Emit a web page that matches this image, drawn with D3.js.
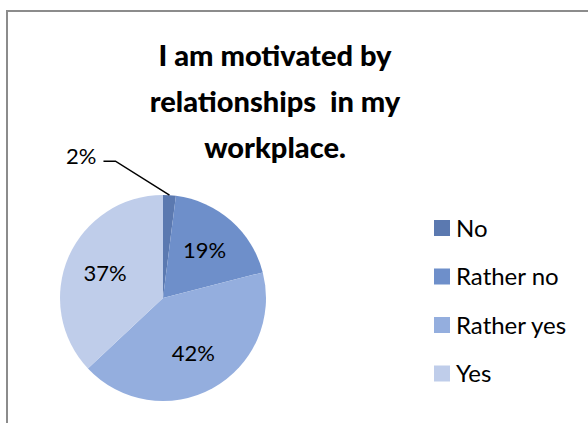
<!DOCTYPE html>
<html>
<head>
<meta charset="utf-8">
<script src="https://cdn.jsdelivr.net/npm/d3@7"></script>
<style>
  html, body { margin: 0; padding: 0; background: #ffffff; }
  svg { display: block; }
  text { font-family: Lato, "Open Sans", "Liberation Sans", sans-serif; fill: #000; }
</style>
</head>
<body>
<svg id="chart" width="588" height="423"></svg>
<script>
// Survey answers, share of respondents
const categories = ["No", "Rather no", "Rather yes", "Yes"];
const shares = [2, 19, 42, 37];
const sliceColors = ["#5b79b0", "#6e8fca", "#94aede", "#bfcdea"];
const titleLines = ["I am motivated by", "relationships  in my", "workplace."];

const W = 588, H = 423;
const svg = d3.select("#chart");

svg.append("rect").attr("width", W).attr("height", H).attr("fill", "#fff");

// chart frame (runs past the right and bottom edges)
svg.append("rect")
  .attr("x", 7).attr("y", 11)
  .attr("width", 640).attr("height", 460)
  .attr("fill", "none")
  .attr("stroke", "#8c8c8c")
  .attr("stroke-width", 2);

// title
const title = svg.append("text")
  .attr("text-anchor", "middle")
  .attr("xml:space", "preserve")
  .style("font-weight", "900")
  .style("font-size", "29px");
titleLines.forEach((line, i) => {
  title.append("tspan")
    .attr("x", 275)
    .attr("y", 66 + i * 46)
    .style("white-space", "pre")
    .text(line);
});

// pie
const cx = 163, cy = 298, R = 103;
const data = categories.map((c, i) => ({ cat: c, value: shares[i] }));
const pie = d3.pie().value(d => d.value).sort(null).startAngle(0).endAngle(2 * Math.PI);
const arcs = pie(data);
const arc = d3.arc().innerRadius(0).outerRadius(R);
const labelArc = d3.arc().innerRadius(126).outerRadius(0); // centroid radius 63
const color = d3.scaleOrdinal().domain(categories).range(sliceColors);

const g = svg.append("g").attr("transform", `translate(${cx},${cy})`);
g.selectAll("path.slice")
  .data(arcs)
  .join("path")
  .attr("class", "slice")
  .attr("d", arc)
  .attr("fill", d => color(d.data.cat));

// inside labels for the larger slices
g.selectAll("text.pct")
  .data(arcs.filter(d => d.data.value >= 5))
  .join("text")
  .attr("class", "pct")
  .attr("transform", d => `translate(${labelArc.centroid(d)})`)
  .attr("text-anchor", "middle")
  .attr("dy", "0.35em")
  .style("font-size", "22px")
  .text(d => d.data.value + "%");

// small slice: label outside with a leader line
arcs.filter(d => d.data.value < 5).forEach(d => {
  const mid = (d.startAngle + d.endAngle) / 2;
  const p0 = [Math.sin(mid) * R, -Math.cos(mid) * R];
  const p1 = [p0[0] - 54, p0[1] - 34];
  const p2 = [p1[0] - 12, p1[1]];
  g.append("polyline")
    .attr("points", [p0, p1, p2].map(p => p.join(",")).join(" "))
    .attr("fill", "none")
    .attr("stroke", "#000")
    .attr("stroke-width", 1.5);
  g.append("text")
    .attr("x", p2[0] - 7)
    .attr("y", p2[1] - 5)
    .attr("text-anchor", "end")
    .attr("dy", "0.35em")
    .style("font-size", "22px")
    .text(d.data.value + "%");
});

// legend
const legend = svg.append("g").attr("transform", "translate(434,228)");
const rows = legend.selectAll("g.row")
  .data(categories)
  .join("g")
  .attr("class", "row")
  .attr("transform", (d, i) => `translate(0,${i * 48.5})`);
rows.append("rect")
  .attr("x", 0).attr("y", -8)
  .attr("width", 16).attr("height", 16)
  .attr("fill", d => color(d));
rows.append("text")
  .attr("x", 22)
  .attr("dy", "0.36em")
  .style("font-size", "24px")
  .text(d => d);
</script>
</body>
</html>
